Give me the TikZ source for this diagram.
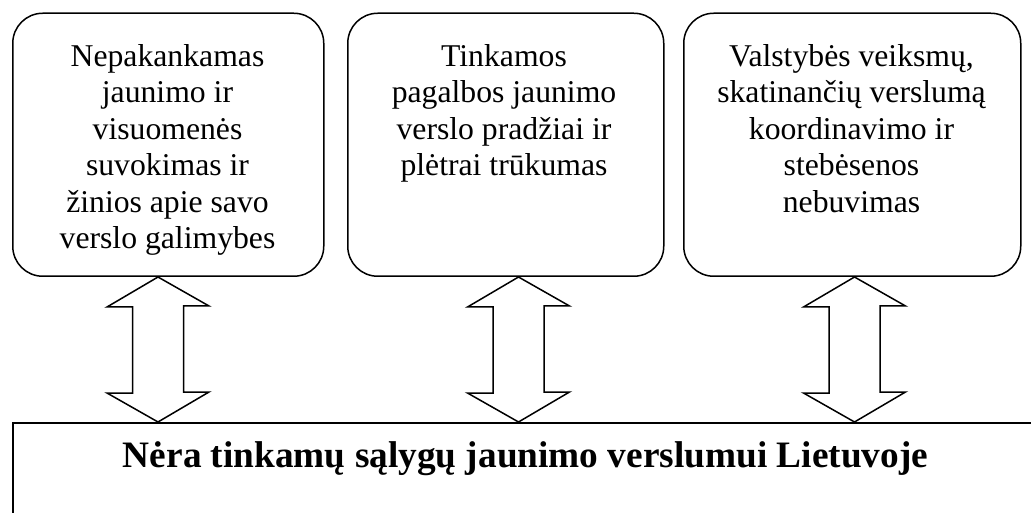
\documentclass[tikz,border=0pt]{standalone}
\usepackage{fontspec}
\setmainfont{Liberation Serif}
\begin{document}
\begin{tikzpicture}
		% three causes, each linked both ways to the common problem below
		[x=1pt,y=1pt,
		 cause/.style={draw,rounded corners=30pt,line width=1.5pt,minimum width=311pt,minimum height=263pt,anchor=south west,inner sep=0},
		 causetext/.style={anchor=north,inner sep=0,align=center,font=\fontsize{31.7}{36.5}\selectfont},
		 goalbox/.style={draw,line width=1.5pt,minimum width=1100pt,minimum height=120pt,anchor=north west,inner sep=0},
		 blockarrow/.style={draw,line width=1.5pt,line join=miter,fill=white}]
		\useasboundingbox (0,0) rectangle (1031,512);
		\clip (0,0) rectangle (1031,512);

		\node[cause] (c1) at (12,235) {};
		\node[cause,minimum width=316pt] (c2) at (347,235) {};
		\node[cause,minimum width=337pt] (c3) at (683,235) {};

		\node[causetext] (t1) at (167.5,468) {Nepakankamas\\jaunimo ir\\visuomenės\\suvokimas ir\\žinios apie savo\\verslo galimybes};
		\node[causetext] (t2) at (504,468) {Tinkamos\\pagalbos jaunimo\\verslo pradžiai ir\\plėtrai trūkumas};
		\node[causetext] (t3) at (851.5,468) {Valstybės veiksmų,\\skatinančių verslumą\\koordinavimo ir\\stebėsenos\\nebuvimas};

		\node[goalbox] (goal) at (12,90) {};
		\node[anchor=base,inner sep=0,font=\bfseries\fontsize{37.3}{40}\selectfont] (goaltext) at (525.5,45)
			{Nėra tinkamų sąlygų jaunimo verslumui Lietuvoje};

		% hollow double arrows
		\foreach \x/\c in {158/c1,518.5/c2,854.5/c3}
			\draw[blockarrow] (\c.south -| \x,0) -- ++(51,-29) -- ++(-25.5,0) -- ++(0,-86) -- ++(25.5,0)
				-- (goal.north -| \x,0) -- ++(-51,29) -- ++(25.5,0) -- ++(0,86) -- ++(-25.5,0) -- cycle;
	\end{tikzpicture}
\end{document}
